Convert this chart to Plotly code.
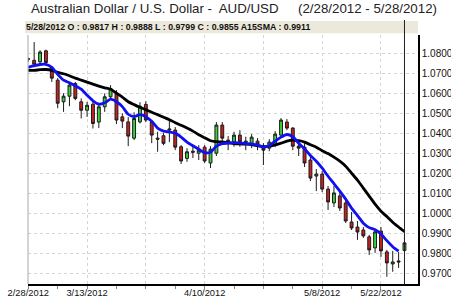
import plotly.graph_objects as go
import pandas as pd

# ---- data ----
dates = [d.strftime("%-m/%-d/%Y") for d in pd.bdate_range("2012-02-28", "2012-05-28")]

opens = [1.0770, 1.0765, 1.0757, 1.0812, 1.0725, 1.0666, 1.0558, 1.0586, 1.0649, 1.0558,
         1.0516, 1.0546, 1.0457, 1.0533, 1.0583, 1.0596, 1.0483, 1.0458, 1.0377, 1.0458,
         1.0545, 1.0457, 1.0377, 1.0389, 1.0417, 1.0417, 1.0334, 1.0276, 1.0312, 1.0302,
         1.0332, 1.0253, 1.0302, 1.0442, 1.0367, 1.0359, 1.0392, 1.0362, 1.0352, 1.0362,
         1.0327, 1.0327, 1.0342, 1.0392, 1.0457, 1.0427, 1.0337, 1.0332, 1.0268, 1.0188,
         1.0198, 1.0123, 1.0054, 1.0089, 1.0054, 0.9959, 0.9934, 0.9919, 0.9885, 0.9830,
         0.9914, 0.9810, 0.9750, 0.9765, 0.9817]
highs = [1.0778, 1.0856, 1.0815, 1.0818, 1.0735, 1.0676, 1.0601, 1.0657, 1.0657, 1.0575,
         1.0558, 1.0566, 1.0551, 1.0600, 1.0641, 1.0616, 1.0501, 1.0482, 1.0506, 1.0556,
         1.0561, 1.0467, 1.0409, 1.0402, 1.0467, 1.0432, 1.0342, 1.0327, 1.0337, 1.0342,
         1.0342, 1.0337, 1.0457, 1.0457, 1.0387, 1.0409, 1.0417, 1.0384, 1.0397, 1.0377,
         1.0352, 1.0372, 1.0412, 1.0477, 1.0472, 1.0432, 1.0357, 1.0352, 1.0288, 1.0223,
         1.0213, 1.0138, 1.0138, 1.0109, 1.0064, 1.0009, 0.9964, 0.9934, 0.9895, 0.9919,
         0.9934, 0.9820, 0.9815, 0.9810, 0.9888]
lows = [1.0758, 1.0730, 1.0745, 1.0737, 1.0657, 1.0526, 1.0508, 1.0536, 1.0566, 1.0475,
        1.0483, 1.0425, 1.0427, 1.0508, 1.0575, 1.0447, 1.0427, 1.0337, 1.0367, 1.0450,
        1.0457, 1.0352, 1.0309, 1.0342, 1.0357, 1.0317, 1.0248, 1.0259, 1.0278, 1.0268,
        1.0253, 1.0228, 1.0288, 1.0362, 1.0317, 1.0334, 1.0334, 1.0317, 1.0327, 1.0317,
        1.0243, 1.0312, 1.0332, 1.0382, 1.0417, 1.0317, 1.0288, 1.0233, 1.0163, 1.0113,
        1.0108, 1.0019, 1.0034, 1.0014, 0.9954, 0.9919, 0.9870, 0.9880, 0.9795, 0.9805,
        0.9785, 0.9686, 0.9711, 0.9730, 0.9799]
closes = [1.0772, 1.0745, 1.0806, 1.0754, 1.0676, 1.0551, 1.0586, 1.0641, 1.0575, 1.0516,
          1.0541, 1.0450, 1.0533, 1.0583, 1.0624, 1.0467, 1.0462, 1.0387, 1.0475, 1.0536,
          1.0467, 1.0392, 1.0372, 1.0351, 1.0422, 1.0332, 1.0263, 1.0309, 1.0307, 1.0317,
          1.0263, 1.0322, 1.0442, 1.0377, 1.0362, 1.0392, 1.0359, 1.0357, 1.0382, 1.0347,
          1.0317, 1.0357, 1.0397, 1.0467, 1.0427, 1.0337, 1.0327, 1.0253, 1.0178, 1.0198,
          1.0123, 1.0059, 1.0104, 1.0029, 0.9964, 0.9929, 0.9909, 0.9890, 0.9820, 0.9910,
          0.9815, 0.9755, 0.9760, 0.9760, 0.9855]

fast_avg = [1.0730, 1.0738, 1.0744, 1.0745, 1.0730, 1.0695, 1.0666, 1.0653, 1.0638, 1.0621,
            1.0591, 1.0563, 1.0546, 1.0553, 1.0571, 1.0558, 1.0534, 1.0496, 1.0484, 1.0494,
            1.0484, 1.0461, 1.0427, 1.0412, 1.0408, 1.0402, 1.0382, 1.0357, 1.0339, 1.0322,
            1.0305, 1.0307, 1.0337, 1.0350, 1.0352, 1.0355, 1.0353, 1.0350, 1.0347, 1.0342,
            1.0333, 1.0339, 1.0362, 1.0382, 1.0395, 1.0384, 1.0352, 1.0324, 1.0290, 1.0262,
            1.0227, 1.0187, 1.0150, 1.0113, 1.0073, 1.0028, 0.9991, 0.9953, 0.9931, 0.9921,
            0.9899, 0.9866, 0.9836, 0.9814]
sma15 = [1.0715, 1.0715, 1.0718, 1.0719, 1.0715, 1.0705, 1.0698, 1.0688, 1.0676, 1.0666,
         1.0656, 1.0646, 1.0636, 1.0628, 1.0621, 1.0601, 1.0581, 1.0558, 1.0544, 1.0531,
         1.0519, 1.0506, 1.0494, 1.0481, 1.0469, 1.0454, 1.0441, 1.0427, 1.0412, 1.0394,
         1.0379, 1.0364, 1.0359, 1.0358, 1.0354, 1.0350, 1.0348, 1.0347, 1.0345, 1.0339,
         1.0334, 1.0337, 1.0343, 1.0352, 1.0362, 1.0367, 1.0364, 1.0357, 1.0344, 1.0332,
         1.0314, 1.0300, 1.0282, 1.0262, 1.0237, 1.0202, 1.0168, 1.0128, 1.0088, 1.0048,
         1.0013, 0.9986, 0.9958, 0.9934, 0.9911]

tick_labels = ["2/28/2012", "3/13/2012", "4/10/2012", "5/8/2012", "5/22/2012"]
grid_dates = ["3/27/2012", "4/24/2012"]
y_ticks = [0.97, 0.98, 0.99, 1.00, 1.01, 1.02, 1.03, 1.04, 1.05, 1.06, 1.07, 1.08]

title_left = "Australian Dollar / U.S. Dollar -\u00a0 AUD/USD"
title_right = "(2/28/2012 - 5/28/2012)"
info_text = "5/28/2012 O : 0.9817 H : 0.9888 L : 0.9799 C : 0.9855 A15SMA : 0.9911"

# ---- figure ----
xs = list(range(len(dates)))
FONT = "Liberation Sans, Arial, sans-serif"

fig = go.Figure()
fig.add_trace(go.Candlestick(
    x=xs, open=opens, high=highs, low=lows, close=closes,
    increasing=dict(line=dict(color="#1c1c1c", width=1), fillcolor="#3ad23a"),
    decreasing=dict(line=dict(color="#1c1c1c", width=1), fillcolor="#c82020"),
    whiskerwidth=0, showlegend=False, hoverinfo="skip",
))
fig.add_trace(go.Scatter(x=xs[:len(sma15)], y=sma15, mode="lines",
                         line=dict(color="#000000", width=2.8, shape="spline", smoothing=0.6),
                         showlegend=False, hoverinfo="skip"))
fig.add_trace(go.Scatter(x=xs[:len(fast_avg)], y=fast_avg, mode="lines",
                         line=dict(color="#1010f0", width=2.8, shape="spline", smoothing=0.6),
                         showlegend=False, hoverinfo="skip"))

label_pos = [dates.index(d) for d in tick_labels]
grid_pos = [dates.index(d) for d in grid_dates]
tickvals = sorted(label_pos + grid_pos)
ticktext = [dates[i] if dates[i] in tick_labels else "" for i in tickvals]

W, H = 451, 299
ml, mr, mt, mb = 28, 33, 35, 15
pw, ph = W - ml - mr, H - mt - mb

def px_x(p):
    return (p - ml) / pw

def px_y(p):
    return 1 - (p - mt) / ph

fig.update_layout(
    width=W, height=H,
    margin=dict(l=ml, r=mr, t=mt, b=mb, pad=0),
    paper_bgcolor="white", plot_bgcolor="white",
    font=dict(family=FONT, size=10, color="#111111"),
    showlegend=False,
    xaxis=dict(
        range=[-0.05, 66.3], rangeslider=dict(visible=False), automargin=False,
        tickvals=tickvals, ticktext=ticktext,
        showgrid=True, gridcolor="#d4d4d4", griddash="dot", gridwidth=1,
        showline=True, linecolor="#000000", linewidth=2,
        ticks="outside", ticklen=2, tickcolor="#888888", ticklabelstandoff=-3,
        minor=dict(tickvals=list(range(0, len(dates), 5)), ticks="outside", ticklen=3,
                   tickcolor="#888888", showgrid=False),
        tickfont=dict(size=9.3, color="#111111"), zeroline=False, fixedrange=True,
    ),
    yaxis=dict(
        range=[0.9650, 1.0891], side="right", automargin=False,
        tickvals=y_ticks, tickformat=".4f",
        showgrid=True, gridcolor="#d4d4d4", griddash="dot", gridwidth=1,
        showline=True, linecolor="#000000", linewidth=1.5,
        ticks="", tickfont=dict(size=10, color="#111111"), zeroline=False,
    ),
)

# left border, info bar, cursor line
fig.add_shape(type="line", xref="paper", yref="paper", x0=0, x1=0, y0=0, y1=1,
              line=dict(color="#a8a8a8", width=1))
fig.add_shape(type="rect", xref="paper", yref="paper",
              x0=px_x(25), x1=px_x(418), y0=px_y(33.3), y1=px_y(21),
              fillcolor="#ece9dc", line=dict(width=0), layer="below")
fig.add_shape(type="line", xref="x", yref="paper", x0=xs[-1], x1=xs[-1],
              y0=0, y1=px_y(20), line=dict(color="#202020", width=1))

fig.add_annotation(text=title_left, xref="paper", yref="paper", x=px_x(29), y=px_y(8.5),
                   xanchor="left", yanchor="middle", showarrow=False,
                   font=dict(family=FONT, size=13.3, color="#222222"))
fig.add_annotation(text=title_right, xref="paper", yref="paper", x=px_x(439), y=px_y(8.5),
                   xanchor="right", yanchor="middle", showarrow=False,
                   font=dict(family=FONT, size=13.3, color="#222222"))
fig.add_annotation(text="<b>" + info_text + "</b>", xref="paper", yref="paper",
                   x=px_x(24), y=px_y(27.3), xanchor="left", yanchor="middle",
                   showarrow=False, font=dict(family=FONT, size=8.8, color="#111111"))

fig.write_html("out.html")
